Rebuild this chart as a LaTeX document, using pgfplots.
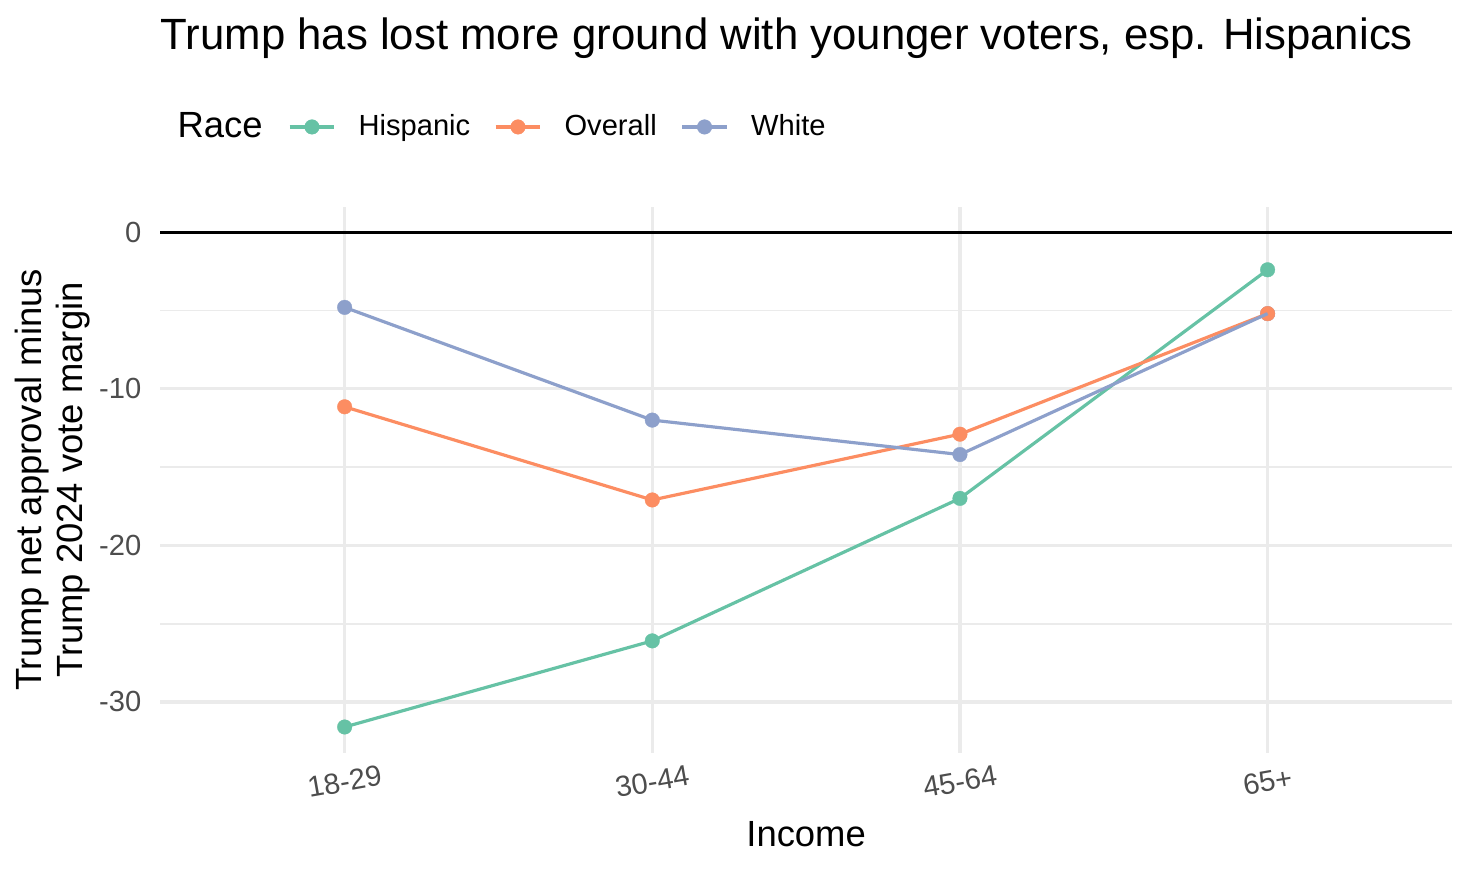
\documentclass[border=0pt]{standalone}
\usepackage{pgfplots}
\pgfplotsset{compat=1.18}
\usepackage{fontspec}
\setmainfont{Liberation Sans}
\definecolor{hisp}{HTML}{66C2A5}
\definecolor{over}{HTML}{FC8D62}
\definecolor{whit}{HTML}{8DA0CB}
\definecolor{gridc}{HTML}{EBEBEB}
\definecolor{ticktext}{HTML}{4D4D4D}

\begin{document}
\begin{tikzpicture}
\begin{axis}[
  at={(0,0)}, anchor=south west,
  scale only axis, width=406.1pt, height=171.3pt,
  clip mode=individual,
  xmin=0.4, xmax=4.6, ymin=-33.23, ymax=1.58,
  xtick={1,2,3,4}, xticklabels={18-29,30-44,45-64,65+},
  ytick={-30,-20,-10,0}, minor ytick={-25,-15,-5},
  xmajorgrids, ymajorgrids, yminorgrids,
  major grid style={gridc, line width=1.05pt},
  minor grid style={gridc, line width=0.55pt},
  axis line style={draw=none},
  major tick length=0pt, minor tick length=0pt,
  /pgf/number format/assume math mode=true,
  tick label style={font=\fontsize{9.15}{11}\selectfont, text=ticktext, inner sep=0pt},
  yticklabel style={anchor=east, xshift=-5.7pt},
  xticklabel style={anchor=center, yshift=-9.1pt, rotate=10},
  title={Trump has lost more ground with younger voters, esp. Hispanics},
  every axis title/.style={at={(axis description cs:0,1.2890)}, anchor=base west, inner sep=0pt, font=\fontsize{13.75}{16}\selectfont},
  xlabel={Income},
  xlabel style={at={(axis description cs:0.5,-0.1728)}, anchor=base, inner sep=0pt, font=\fontsize{11.45}{13}\selectfont},
  ylabel={Trump net approval minus\\Trump 2024 vote margin},
  ylabel style={at={(axis description cs:-0.0539,0.5)}, anchor=south, align=center, inner sep=0pt, font=\fontsize{11.45}{12.8}\selectfont},
  legend columns=-1,
  legend style={at={(axis description cs:0.0990,1.1477)}, anchor=west, draw=none, fill=none,
    inner sep=0pt, outer sep=0pt, font=\fontsize{9.15}{11}\selectfont, nodes={inner sep=0pt},
    /tikz/every odd column/.style={column sep=7.1pt},
    /tikz/every even column/.style={column sep=7.45pt}},
  legend image code/.code={\draw[mark repeat=2,mark phase=2,#1] plot coordinates {(0pt,0pt)(7.05pt,0pt)(14.1pt,0pt)};},
  every axis plot/.append style={line width=1pt, mark size=2.3pt, mark options={line width=0.1pt}},
]
% zero reference line
\addplot[black, line width=1.05pt, forget plot] coordinates {(0.4,0)(4.6,0)};

\addplot[hisp, mark=*] coordinates {(1,-31.6)(2,-26.1)(3,-17.0)(4,-2.4)};
\addlegendentry{Hispanic}
% white points under the overall points
\addplot[whit, only marks, mark=*, forget plot] coordinates {(1,-4.8)(2,-12.0)(3,-14.2)(4,-5.2)};
\addplot[over, mark=*] coordinates {(1,-11.15)(2,-17.1)(3,-12.9)(4,-5.2)};
\addlegendentry{Overall}
\addplot[whit, no markers, forget plot] coordinates {(1,-4.8)(2,-12.0)(3,-14.2)(4,-5.2)};
\addlegendimage{whit, mark=*}
\addlegendentry{White}

\node[anchor=base west, inner sep=0pt, font=\fontsize{11.45}{13}\selectfont] at (axis description cs:0.01305,1.1279) {Race};
\end{axis}
\pgfresetboundingbox
\path (-50.3pt,-37.6pt) rectangle (411.7pt,236.5pt);
\end{tikzpicture}
\end{document}
